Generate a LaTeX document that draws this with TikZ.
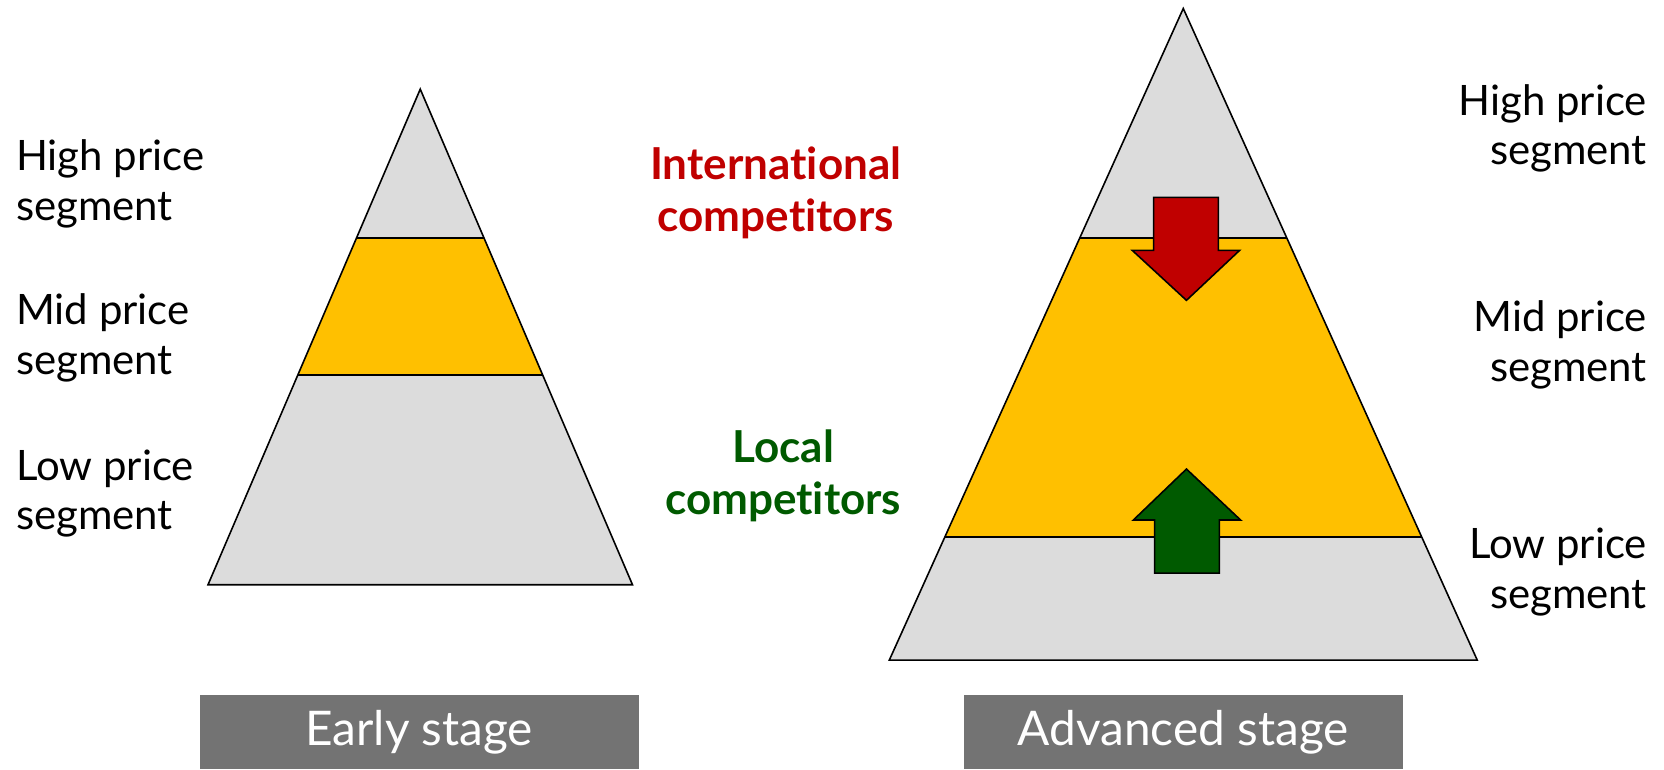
\documentclass[tikz,border=0pt]{standalone}
\usepackage{fontspec}
\setmainfont{Lato}[Ligatures={NoCommon}]
\definecolor{tri}{HTML}{DCDCDC}
\definecolor{band}{HTML}{FFC000}
\definecolor{intl}{HTML}{C00000}
\definecolor{locl}{HTML}{005A00}
\definecolor{stagebg}{HTML}{737373}
\tikzset{
  lbl/.style={font=\fontsize{39.5}{47}\selectfont, align=left, inner sep=0pt},
  lblr/.style={font=\fontsize{39.5}{47}\selectfont, align=right, inner sep=0pt},
  comp/.style={font=\fontsize{41.5}{49}\selectfont\bfseries, align=center, inner sep=0pt},
  stagebox/.style={fill=stagebg, text=white, minimum width=414pt, minimum height=70pt, inner sep=0pt, font=\fontsize{45}{52}\selectfont},
  outline/.style={draw=black, line width=1.5pt, line join=miter},
  bandline/.style={draw=black, line width=2pt},
  bigarrow/.style={draw=black, line width=1.5pt, line join=miter}
}
\begin{document}
\begin{tikzpicture}[x=1pt,y=-1pt]
\useasboundingbox (0,0) rectangle (1568,725);
% ---- left pyramid ----
\coordinate (LA) at (396,84);
\coordinate (LL) at (196,551);
\coordinate (LR) at (596,551);
\fill[tri] (LA) -- (LL) -- (LR) -- cycle;
\fill[band] (336.1,224) -- (455.9,224) -- (511.1,353) -- (280.9,353) -- cycle;
\draw[bandline] (336.1,224) -- (455.9,224);
\draw[bandline] (280.9,353) -- (511.1,353);
\draw[outline] (LA) -- (LL) -- (LR) -- cycle;
% ---- right pyramid ----
\coordinate (RA) at (1115,8);
\coordinate (RL) at (838,622);
\coordinate (RR) at (1392,622);
\fill[tri] (RA) -- (RL) -- (RR) -- cycle;
\fill[band] (1017.6,224) -- (1212.4,224) -- (1339.7,506) -- (890.3,506) -- cycle;
\draw[bandline] (1017.6,224) -- (1212.4,224);
\draw[bandline] (890.3,506) -- (1339.7,506);
\draw[outline] (RA) -- (RL) -- (RR) -- cycle;
% ---- arrows ----
\draw[bigarrow, fill=intl] (1087,186) -- (1148,186) -- (1148,236) -- (1168,236) -- (1118,283) -- (1067,236) -- (1087,236) -- cycle;
\draw[bigarrow, fill=locl] (1088,540) -- (1149,540) -- (1149,490) -- (1169,490) -- (1118,442) -- (1068,490) -- (1088,490) -- cycle;
% ---- left labels ----
\node[lbl, anchor=west] (lhigh) at (15,173) {High price\\segment};
\node[lbl, anchor=west] (lmid) at (15,318) {Mid price\\segment};
\node[lbl, anchor=west] (llow) at (15,465) {Low price\\segment};
% ---- right labels ----
\node[lblr, anchor=east] (rhigh) at (1552,121) {High price\\segment};
\node[lblr, anchor=east] (rmid) at (1552,325) {Mid price\\segment};
\node[lblr, anchor=east] (rlow) at (1552,539) {Low price\\segment};
% ---- competitors ----
\node[comp, text=intl] (intlc) at (731,182) {International\\competitors};
\node[comp, text=locl] (loclc) at (738,448) {Local\\competitors};
% ---- stage boxes ----
\node[stagebox] (early) at (395,690) {Early stage};
\node[stagebox] (adv) at (1115,690) {Advanced stage};
\end{tikzpicture}
\end{document}
